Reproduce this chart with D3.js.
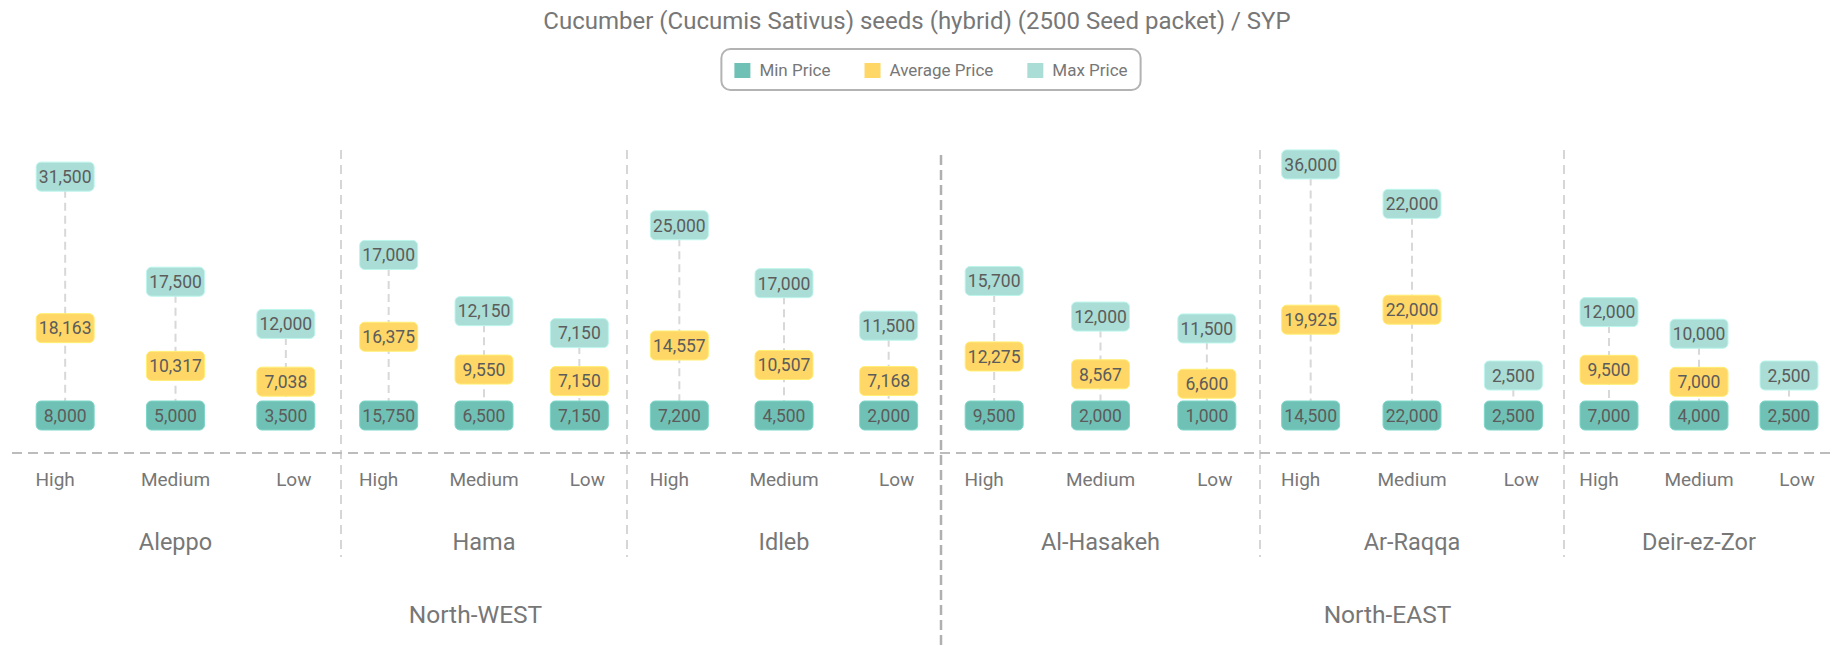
<!DOCTYPE html>
<html>
<head>
<meta charset="utf-8">
<script src="https://cdn.jsdelivr.net/npm/d3@7"></script>
<style>
  body { margin: 0; background: #fff; }
  text { font-family: Roboto, "Noto Sans", sans-serif; }
</style>
</head>
<body>
<svg id="chart" width="1834" height="646"></svg>
<script>
// data
const title = 'Cucumber (Cucumis Sativus) seeds (hybrid) (2500 Seed packet) / SYP';
const regions = ['North-WEST', 'North-EAST'];
const governorates = ['Aleppo', 'Hama', 'Idleb', 'Al-Hasakeh', 'Ar-Raqqa', 'Deir-ez-Zor'];
const governorateRegion = ['North-WEST', 'North-WEST', 'North-WEST', 'North-EAST', 'North-EAST', 'North-EAST'];
const levels = ['High', 'Medium', 'Low'];
const seriesNames = ['Min Price', 'Average Price', 'Max Price'];

// one value per governorate x level (High, Medium, Low)
const minPrice = [8000, 5000, 3500, 15750, 6500, 7150, 7200, 4500, 2000,
  9500, 2000, 1000, 14500, 22000, 2500, 7000, 4000, 2500];
const avgPrice = [18163, 10317, 7038, 16375, 9550, 7150, 14557, 10507, 7168,
  12275, 8567, 6600, 19925, 22000, 2500, 9500, 7000, 2500];
const maxPrice = [31500, 17500, 12000, 17000, 12150, 7150, 25000, 17000, 11500,
  15700, 12000, 11500, 36000, 22000, 2500, 12000, 10000, 2500];

// layout
const W = 1834;
const H = 646;
const colors = ['#70c1b5', '#fed766', '#a9ddd5'];
const groupEdges = [10, 341, 627, 941, 1260, 1564, 1834];
const baseY = 415.5;
const plotTop = 105;
const boxW = 58;
const boxH = 29;
const levelNudge = { High: -10, Medium: 0, Low: 8 };
const fmt = d3.format(',');

const svg = d3.select('#chart');

const x = d3.scaleLinear()
  .domain(d3.range(0, governorates.length * 3 + 1, 3))
  .range(groupEdges);

const y = d3.scaleLinear()
  .domain([0, 36000])
  .range([baseY, 69.2]);

const rows = minPrice.map((m, i) => ({
  i,
  gov: governorates[Math.floor(i / 3)],
  level: levels[i % 3],
  min: m,
  avg: avgPrice[i],
  max: maxPrice[i],
}));

// stacked segments: avg (0..avg) and max (avg..max); labels centred in them
rows.forEach((d) => {
  d.cx = x(d.i + 0.5);
  d.minY = baseY;
  d.avgY = y(d.avg / 2);
  d.showAvg = d.minY - d.avgY >= 30;
  const top = Math.max(y(d.max), plotTop);
  d.maxY = (top + y(d.avg)) / 2;
  const below = d.showAvg ? d.avgY - 48 : d.minY - 40;
  d.maxY = Math.min(d.maxY, below);
});

// title
svg.append('text')
  .attr('x', 917)
  .attr('y', 29)
  .attr('text-anchor', 'middle')
  .style('font-size', '24px')
  .style('fill', '#777')
  .text(title);

// legend
const legend = svg.append('g');
const legendFrame = legend.append('rect')
  .attr('rx', 9)
  .attr('fill', '#fff')
  .attr('stroke', '#b3b3b3')
  .attr('stroke-width', 2);
let lx = 0;
seriesNames.forEach((name, k) => {
  const item = legend.append('g').attr('transform', `translate(${lx},0)`);
  item.append('rect')
    .attr('y', -7)
    .attr('width', 16)
    .attr('height', 15)
    .attr('fill', colors[k]);
  const t = item.append('text')
    .attr('x', 25)
    .attr('dy', '0.35em')
    .style('font-size', '17px')
    .style('fill', '#777')
    .text(name);
  lx += 25 + t.node().getComputedTextLength() + 34;
});
const legendW = lx - 34 + 26;
legend.attr('transform', `translate(${931 - legendW / 2 + 13},70)`);
legendFrame
  .attr('x', -13)
  .attr('y', -21)
  .attr('width', legendW)
  .attr('height', 41);

// governorate separators
const sepIdx = [3, 6, 12, 15];
svg.selectAll('.sep')
  .data(sepIdx)
  .join('line')
  .attr('x1', (d) => x(d))
  .attr('x2', (d) => x(d))
  .attr('y1', 150)
  .attr('y2', 557)
  .attr('stroke', '#d6d6d6')
  .attr('stroke-width', 2)
  .attr('stroke-dasharray', '9,6');

// region separator
svg.append('line')
  .attr('x1', x(9))
  .attr('x2', x(9))
  .attr('y1', 155)
  .attr('y2', H)
  .attr('stroke', '#b0b0b0')
  .attr('stroke-width', 2.5)
  .attr('stroke-dasharray', '10,5');

// baseline
svg.append('line')
  .attr('x1', 12)
  .attr('x2', W)
  .attr('y1', 453)
  .attr('y2', 453)
  .attr('stroke', '#bcbcbc')
  .attr('stroke-width', 2)
  .attr('stroke-dasharray', '10,6');

// link lines
svg.selectAll('.link')
  .data(rows)
  .join('line')
  .attr('x1', (d) => d.cx)
  .attr('x2', (d) => d.cx)
  .attr('y1', (d) => d.maxY)
  .attr('y2', (d) => d.minY)
  .attr('stroke', '#d8d8d8')
  .attr('stroke-width', 2)
  .attr('stroke-dasharray', '8,5');

// labels
const labelData = [];
rows.forEach((d) => {
  labelData.push({ x: d.cx, y: d.minY, v: d.min, c: colors[0] });
  if (d.showAvg) labelData.push({ x: d.cx, y: d.avgY, v: d.avg, c: colors[1] });
  labelData.push({ x: d.cx, y: d.maxY, v: d.max, c: colors[2] });
});

const lab = svg.selectAll('.lab')
  .data(labelData)
  .join('g')
  .attr('transform', (d) => `translate(${d.x},${d.y})`);

lab.append('rect')
  .attr('x', -boxW / 2)
  .attr('y', -boxH / 2)
  .attr('width', boxW)
  .attr('height', boxH)
  .attr('rx', 5)
  .attr('fill', (d) => d.c)
  .attr('stroke', (d) => d3.color(d.c).brighter(0.3))
  .attr('stroke-width', 1);

lab.append('text')
  .attr('text-anchor', 'middle')
  .attr('dy', '0.36em')
  .style('font-size', '17.5px')
  .style('fill', '#5c5c5c')
  .text((d) => fmt(d.v));

// level tick labels
svg.selectAll('.lvl')
  .data(rows)
  .join('text')
  .attr('x', (d) => d.cx + levelNudge[d.level])
  .attr('y', 479)
  .attr('dy', '0.35em')
  .attr('text-anchor', 'middle')
  .style('font-size', '19px')
  .style('fill', '#777')
  .text((d) => d.level);

// governorate labels
svg.selectAll('.gov')
  .data(governorates)
  .join('text')
  .attr('x', (d, g) => (x(g * 3) + x(g * 3 + 3)) / 2)
  .attr('y', 542)
  .attr('dy', '0.35em')
  .attr('text-anchor', 'middle')
  .style('font-size', '23.5px')
  .style('fill', '#777')
  .text((d) => d);

// region labels
svg.selectAll('.reg')
  .data(regions)
  .join('text')
  .attr('x', (r) => {
    const idx = governorateRegion.map((g, k) => (g === r ? k : -1)).filter((k) => k >= 0);
    return (x(d3.min(idx) * 3) + x(d3.max(idx) * 3 + 3)) / 2;
  })
  .attr('y', 614)
  .attr('dy', '0.35em')
  .attr('text-anchor', 'middle')
  .style('font-size', '24.5px')
  .style('fill', '#777')
  .text((d) => d);
</script>
</body>
</html>
